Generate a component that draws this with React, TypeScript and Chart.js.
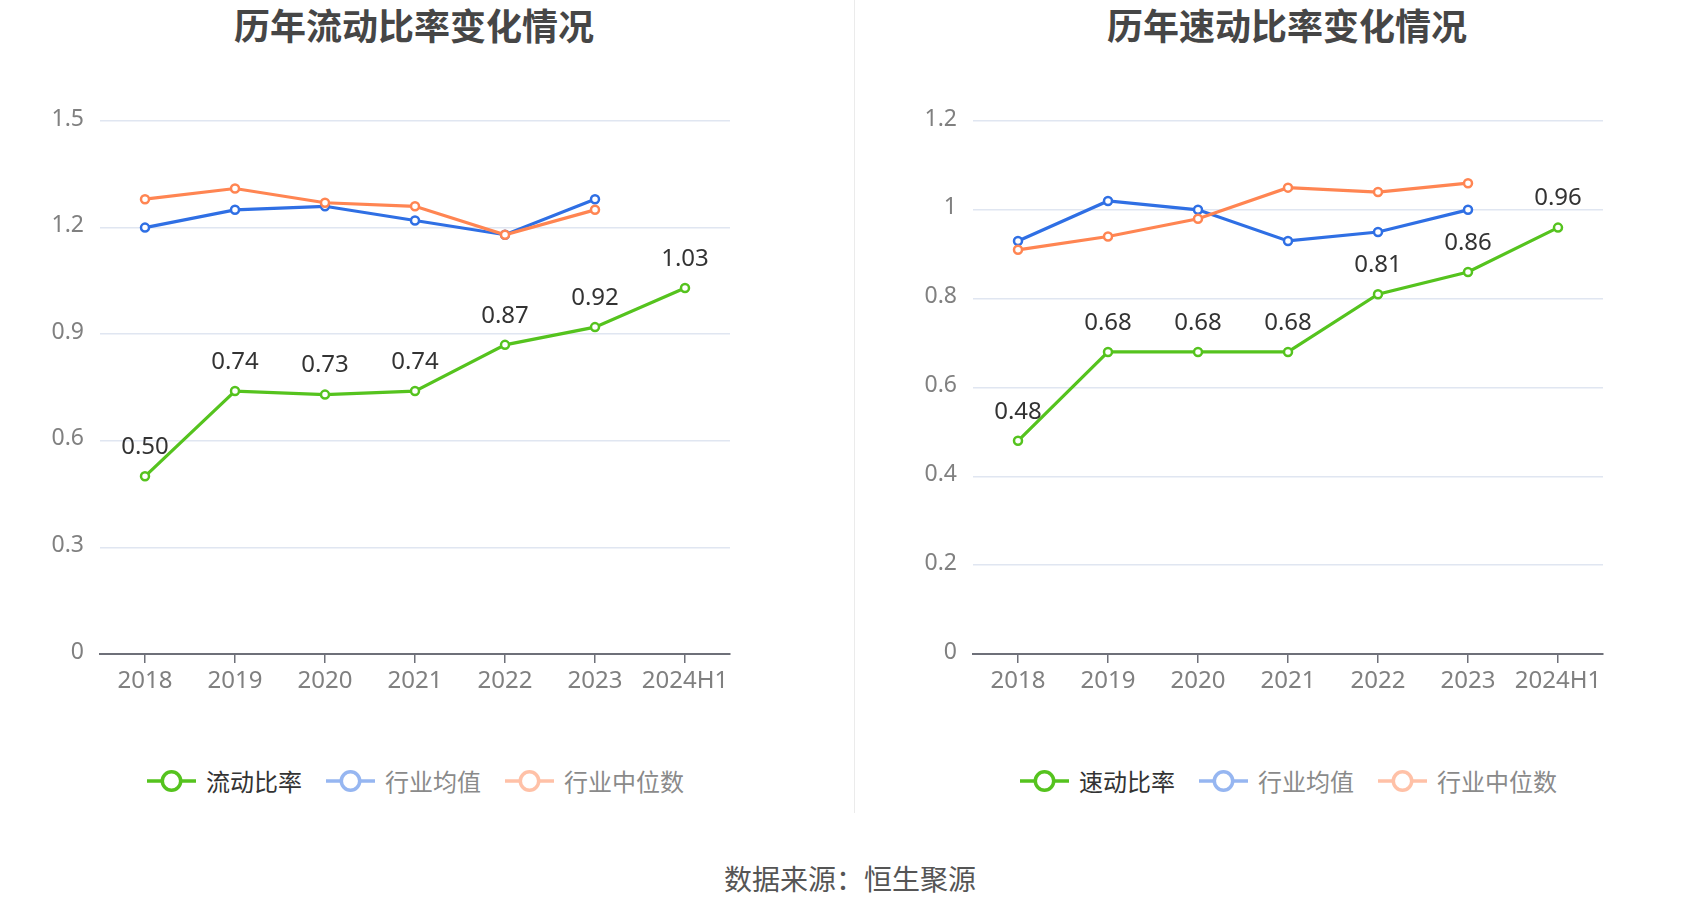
import React, { useEffect, useRef } from "react";
import { Chart, registerables } from "chart.js";

Chart.register(...registerables);

// ---- data ----
const categories = ["2018", "2019", "2020", "2021", "2022", "2023", "2024H1"];

const currentRatio = [0.5, 0.74, 0.73, 0.74, 0.87, 0.92, 1.03];
const currentIndustryMean = [1.2, 1.25, 1.26, 1.22, 1.18, 1.28, null];
const currentIndustryMedian = [1.28, 1.31, 1.27, 1.26, 1.18, 1.25, null];

const quickRatio = [0.48, 0.68, 0.68, 0.68, 0.81, 0.86, 0.96];
const quickIndustryMean = [0.93, 1.02, 1.0, 0.93, 0.95, 1.0, null];
const quickIndustryMedian = [0.91, 0.94, 0.98, 1.05, 1.04, 1.06, null];

const leftAxis = { max: 1.5, step: 0.3 };
const rightAxis = { max: 1.2, step: 0.2 };

const leftTitle = "历年流动比率变化情况";
const rightTitle = "历年速动比率变化情况";
const leftLegend = ["流动比率", "行业均值", "行业中位数"];
const rightLegend = ["速动比率", "行业均值", "行业中位数"];
const sourceText = "数据来源：恒生聚源";

// ---- styles ----
const GREEN = "#55c31e";
const BLUE = "#2f6fe4";
const ORANGE = "#ff8552";
const FONT = "'Noto Sans', 'Noto Sans CJK SC', sans-serif";
const CJK = "'Noto Sans CJK SC', 'Noto Sans', sans-serif";

const valueLabelPlugin = {
  id: "valueLabels",
  afterDatasetsDraw(chart: any) {
    const meta = chart.getDatasetMeta(0);
    const data = chart.data.datasets[0].data as (number | null)[];
    const ctx = chart.ctx;
    ctx.save();
    ctx.font = `24px ${FONT}`;
    ctx.fillStyle = "#333333";
    ctx.textAlign = "center";
    ctx.textBaseline = "middle";
    meta.data.forEach((pt: any, i: number) => {
      const v = data[i];
      if (v == null) return;
      ctx.fillText(v.toFixed(2), pt.x, pt.y - 29);
    });
    ctx.restore();
  },
};

function lineDataset(label: string, data: (number | null)[], color: string, order: number) {
  return {
    label,
    data,
    borderColor: color,
    backgroundColor: "#ffffff",
    pointBackgroundColor: "#ffffff",
    pointBorderColor: color,
    pointRadius: 4,
    pointBorderWidth: 2.5,
    pointHoverRadius: 4,
    borderWidth: 3.2,
    tension: 0,
    spanGaps: false,
    order,
  };
}

type PanelProps = {
  left: number;
  width: number;
  plotLeft: number; // relative to canvas
  plotRight: number; // relative to canvas
  main: (number | null)[];
  mean: (number | null)[];
  median: (number | null)[];
  labels: string[];
  axis: { max: number; step: number };
};

const CANVAS_H = 760;

function Panel(p: PanelProps) {
  const ref = useRef<HTMLCanvasElement | null>(null);
  useEffect(() => {
    if (!ref.current) return;
    const chart = new Chart(ref.current, {
      type: "line",
      data: {
        labels: categories,
        datasets: [
          lineDataset(p.labels[0], p.main, GREEN, 0),
          lineDataset(p.labels[1], p.mean, BLUE, 2),
          lineDataset(p.labels[2], p.median, ORANGE, 1),
        ] as any,
      },
      options: {
        responsive: false,
        animation: false,
        devicePixelRatio: 1,
        layout: {
          padding: { left: 0, right: p.width - p.plotRight, top: 121, bottom: 46 },
        },
        plugins: {
          legend: { display: false },
          title: { display: false },
          tooltip: { enabled: false },
        },
        scales: {
          x: {
            type: "category",
            offset: true,
            grid: {
              display: true,
              drawOnChartArea: false,
              drawTicks: true,
              tickLength: 9,
              color: "#6e7079",
              lineWidth: 1.5,
              offset: false,
            },
            border: { display: true, color: "#6e7079", width: 2 },
            ticks: {
              color: "#808080",
              font: { family: FONT, size: 24 },
              padding: 4,
              maxRotation: 0,
              autoSkip: false,
            },
            afterFit(scale: any) {
              scale.height = 60;
            },
          },
          y: {
            min: 0,
            max: p.axis.max,
            grid: {
              color: "#e0e6f1",
              lineWidth: 1.5,
              drawTicks: false,
            },
            border: { display: false },
            ticks: {
              stepSize: p.axis.step,
              color: "#808080",
              font: { family: FONT, size: 23 },
              padding: 16,
              labelOffset: -2,
              callback: (v: any) => String(Number(Number(v).toFixed(2))),
            },
            afterFit(scale: any) {
              scale.width = p.plotLeft;
            },
          },
        },
      } as any,
      plugins: [valueLabelPlugin],
    });
    return () => chart.destroy();
  }, []);
  return (
    <canvas
      ref={ref}
      width={p.width}
      height={CANVAS_H}
      style={{ position: "absolute", left: p.left, top: 0, width: p.width, height: CANVAS_H }}
    />
  );
}

function LegendMarker({ color, faded }: { color: string; faded: boolean }) {
  return (
    <svg width={49} height={26} style={{ display: "block", flex: "none" }}>
      <g opacity={faded ? 0.5 : 1}>
        <line x1={0} y1={13} x2={49} y2={13} stroke={color} strokeWidth={3.5} />
        <circle cx={24.5} cy={13} r={9.2} stroke={color} strokeWidth={3.5} fill="#ffffff" />
      </g>
    </svg>
  );
}

function Legend({ left, labels }: { left: number; labels: string[] }) {
  const colors = [GREEN, BLUE, ORANGE];
  return (
    <div
      style={{
        position: "absolute",
        left,
        top: 781 - 15,
        height: 30,
        display: "flex",
        alignItems: "center",
        whiteSpace: "nowrap",
      }}
    >
      {labels.map((l, i) => (
        <div key={l + i} style={{ display: "flex", alignItems: "center", marginRight: 24 }}>
          <LegendMarker color={colors[i]} faded={i > 0} />
          <span
            style={{
              marginLeft: 10,
              fontFamily: CJK,
              fontSize: 24,
              lineHeight: "30px",
              color: i === 0 ? "#333333" : "#8a8a8a",
            }}
          >
            {l}
          </span>
        </div>
      ))}
    </div>
  );
}

function Title({ center, text }: { center: number; text: string }) {
  return (
    <div
      style={{
        position: "absolute",
        left: center - 300,
        width: 600,
        top: 6,
        textAlign: "center",
        fontFamily: CJK,
        fontWeight: 700,
        fontSize: 36,
        lineHeight: "36px",
        color: "#464646",
      }}
    >
      {text}
    </div>
  );
}

export default function App() {
  return (
    <div
      style={{
        position: "absolute",
        left: 0,
        top: 0,
        width: 1700,
        height: 918,
        background: "#ffffff",
        overflow: "hidden",
      }}
    >
      <Title center={414} text={leftTitle} />
      <Title center={1287} text={rightTitle} />
      <Panel
        left={0}
        width={854}
        plotLeft={100}
        plotRight={730}
        main={currentRatio}
        mean={currentIndustryMean}
        median={currentIndustryMedian}
        labels={leftLegend}
        axis={leftAxis}
      />
      <Panel
        left={854}
        width={846}
        plotLeft={119}
        plotRight={749}
        main={quickRatio}
        mean={quickIndustryMean}
        median={quickIndustryMedian}
        labels={rightLegend}
        axis={rightAxis}
      />
      <div
        style={{ position: "absolute", left: 854, top: 0, width: 1, height: 813, background: "#ebebeb" }}
      />
      <Legend left={147} labels={leftLegend} />
      <Legend left={1020} labels={rightLegend} />
      <div
        style={{
          position: "absolute",
          left: 850 - 300,
          width: 600,
          top: 864,
          textAlign: "center",
          fontFamily: CJK,
          fontSize: 28,
          lineHeight: "28px",
          color: "#555555",
        }}
      >
        {sourceText}
      </div>
    </div>
  );
}
